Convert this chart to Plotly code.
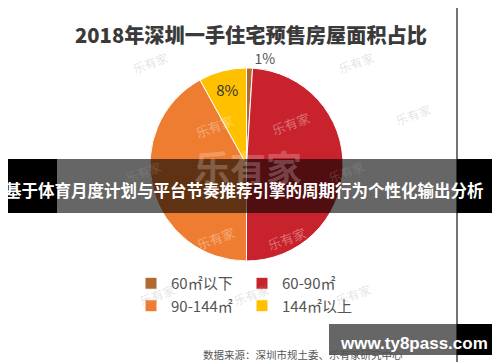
import plotly.graph_objects as go

# ---- data ----
labels = ["60㎡以下", "60-90㎡", "90-144㎡", "144㎡以上"]
values = [1, 49, 42, 8]
colors = ["#B0692E", "#C8232C", "#EE7D31", "#FFC000"]
title_text = "2018年深圳一手住宅预售房屋面积占比"
banner_text = "基于体育月度计划与平台节奏推荐引擎的周期行为个性化输出分析"
source_text = "数据来源：深圳市规土委、乐有家研究中心"
site_text = "www.ty8pass.com"

W, H = 500, 362
ML, MR = 120, 130
PW = W - ML - MR

def px(x):
    return (x - ML) / PW

def py(y):
    return 1 - y / H

CJK = "Noto Sans CJK SC"

fig = go.Figure(go.Pie(
    labels=labels,
    values=values,
    sort=False,
    direction="clockwise",
    rotation=0,
    marker=dict(colors=colors, line=dict(color="white", width=1)),
    textinfo="percent",
    textposition=["outside", "none", "none", "inside"],
    insidetextfont=dict(family=CJK, size=15, color="#333333"),
    outsidetextfont=dict(family=CJK, size=14, color="#555555"),
    domain=dict(x=[px(142), px(335)], y=[py(253), py(60)]),
    hoverinfo="skip",
))

shapes = [
    dict(type="line", xref="paper", yref="paper", x0=px(449), x1=px(449), y0=0, y1=1,
         line=dict(color="#444444", width=1.5), layer="below"),
    dict(type="rect", xref="paper", yref="paper", x0=px(49), x1=px(449), y0=py(205), y1=py(151),
         fillcolor="rgba(0,0,0,0.6)", line=dict(width=0), layer="above"),
    dict(type="rect", xref="paper", yref="paper", x0=px(0), x1=px(49), y0=py(205), y1=py(151),
         fillcolor="black", line=dict(width=0), layer="above"),
    dict(type="rect", xref="paper", yref="paper", x0=px(449), x1=px(500), y0=py(205), y1=py(151),
         fillcolor="black", line=dict(width=0), layer="above"),
    dict(type="rect", xref="paper", yref="paper", x0=px(321), x1=px(449), y0=py(347), y1=py(316),
         fillcolor="rgba(0,0,0,0.6)", line=dict(width=0), layer="above"),
    dict(type="rect", xref="paper", yref="paper", x0=px(449), x1=px(492), y0=py(347), y1=py(316),
         fillcolor="black", line=dict(width=0), layer="above"),
]

annotations = [
    dict(text=title_text, x=px(65), y=py(26), xref="paper", yref="paper", showarrow=False,
         xanchor="left", yanchor="middle",
         font=dict(family=CJK, size=20.2, color="#3a3a3a", weight=900)),
    dict(text=source_text, x=px(193), y=py(346.5), xref="paper", yref="paper", showarrow=False,
         xanchor="left", yanchor="middle",
         font=dict(family=CJK, size=10.5, color="#555555")),
]

wm_pie = [(182, 100), (307, 97), (183, 230), (303, 230)]
wm_bg = [(120, 38), (370, 38), (113, 163), (360, 163), (127, 303), (243, 303), (367, 303), (427, 90)]
for (x, y) in wm_pie:
    annotations.append(dict(text="乐有家", x=px(x), y=py(y), xref="paper", yref="paper",
                            showarrow=False, textangle=-20,
                            font=dict(family=CJK, size=13, color="rgba(255,255,255,0.35)")))
for (x, y) in wm_bg:
    annotations.append(dict(text="乐有家", x=px(x), y=py(y), xref="paper", yref="paper",
                            showarrow=False, textangle=-20,
                            font=dict(family=CJK, size=12, color="rgba(160,160,160,0.3)")))
annotations.append(dict(text="乐有家", x=px(240), y=py(158), xref="paper", yref="paper",
                        showarrow=False,
                        font=dict(family=CJK, size=36, color="rgba(255,255,255,0.22)", weight="bold")))

annotations += [
    dict(text=banner_text, x=px(-5), y=py(182), xref="paper", yref="paper", showarrow=False,
         xanchor="left", yanchor="middle",
         font=dict(family=CJK, size=16.5, color="white", weight="bold")),
    dict(text=site_text, x=px(406), y=py(335), xref="paper", yref="paper", showarrow=False,
         xanchor="center", yanchor="middle",
         font=dict(family="Liberation Sans", size=17, color="white", weight="bold")),
]

fig.update_layout(
    width=W, height=H,
    margin=dict(l=ML, r=MR, t=0, b=0, pad=0),
    paper_bgcolor="white",
    plot_bgcolor="white",
    showlegend=True,
    legend=dict(
        orientation="h",
        x=px(123), xanchor="left",
        y=py(259), yanchor="top",
        entrywidth=66, entrywidthmode="pixels",
        font=dict(family=CJK, size=15, color="#555555"),
        bgcolor="rgba(0,0,0,0)",
        itemclick=False, itemdoubleclick=False,
    ),
    shapes=shapes,
    annotations=annotations,
)

fig.write_html("out.html")
